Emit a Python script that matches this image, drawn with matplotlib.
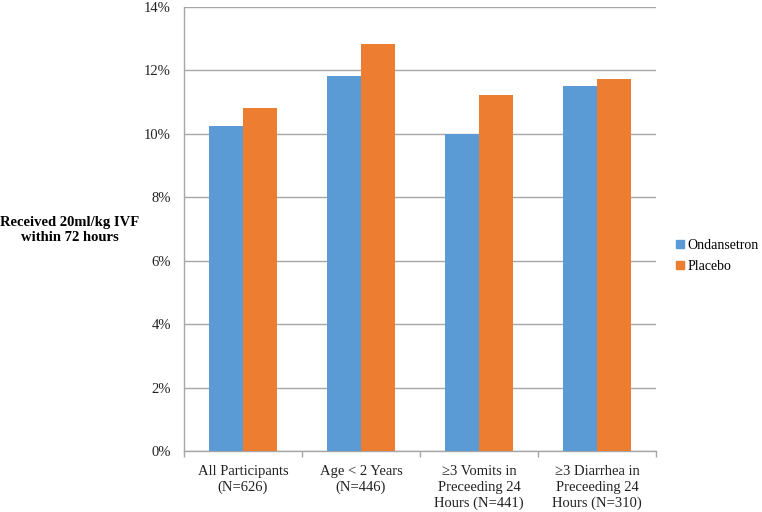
import matplotlib.pyplot as plt
import numpy as np
from matplotlib.patches import Patch
from matplotlib.ticker import FuncFormatter

plt.rcParams['font.family'] = ['Liberation Serif', 'DejaVu Serif']

categories = ['All Participants\n(N=626)', 'Age < 2 Years\n(N=446)',
              '≥3 Vomits in\nPreceeding 24\nHours (N=441)',
              '≥3 Diarrhea in\nPreceeding 24\nHours (N=310)']
ondansetron = [10.25, 11.83, 10.01, 11.52]
placebo = [10.82, 12.83, 11.24, 11.72]
series_names = ['Ondansetron', 'Placebo']
yticks = [0, 2, 4, 6, 8, 10, 12, 14]

blue = '#5B9BD5'
orange = '#ED7D31'
grid_c = '#a6a6a6'
fs = 10.5

fig = plt.figure(figsize=(7.62, 5.12), dpi=100)
ax = fig.add_axes([184/762, 1 - 451/512, 472/762, 444/512])

x = np.arange(len(categories))
w = 0.284
ax.bar(x - w/2, ondansetron, w, color=blue, zorder=3)
ax.bar(x + w/2, placebo, w, color=orange, zorder=3)

ax.set_xlim(-0.5, len(categories) - 0.5)
ax.set_ylim(0, 14)
ax.set_yticks(yticks)
ax.yaxis.set_major_formatter(FuncFormatter(lambda v, p: '%d%%' % v))
ax.grid(axis='y', color=grid_c, linewidth=1, zorder=0)
ax.tick_params(axis='y', length=0, pad=9.5, labelsize=fs, labelcolor='#222222')

ax.set_xticks(x)
ax.set_xticklabels(categories, fontsize=fs, color='#222222', va='top',
                   linespacing=1.3)
ax.tick_params(axis='x', length=0, pad=10)
ax.set_xticks(np.arange(len(categories) + 1) - 0.5, minor=True)
ax.tick_params(axis='x', which='minor', length=4, color=grid_c, width=1)

for s in ['top', 'right']:
    ax.spines[s].set_visible(False)
for s in ['left', 'bottom']:
    ax.spines[s].set_color(grid_c)
    ax.spines[s].set_linewidth(1)

fig.text(70/762, 1 - 230/512, 'Received 20ml/kg IVF\nwithin 72 hours',
         ha='center', va='center', fontsize=fs, fontweight='bold',
         linespacing=1.15)

handles = [Patch(color=blue), Patch(color=orange)]
fig.legend(handles, series_names, loc='center left',
           bbox_to_anchor=(676/762, 1 - 256/512), frameon=False,
           fontsize=10, handlelength=0.55, handleheight=0.55,
           handletextpad=0.25, labelspacing=0.55, borderpad=0,
           borderaxespad=0)

fig.savefig('out.png', dpi=100)
